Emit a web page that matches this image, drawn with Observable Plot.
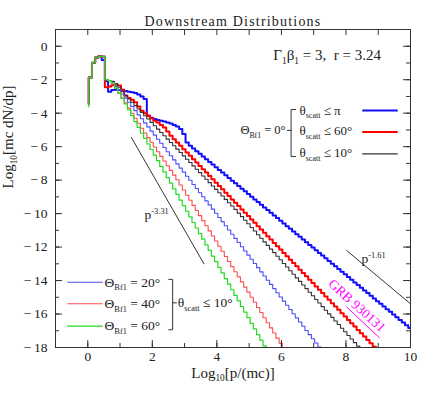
<!DOCTYPE html>
<html><head><meta charset="utf-8">
<script src="https://cdn.jsdelivr.net/npm/d3@7"></script>
<script src="https://cdn.jsdelivr.net/npm/@observablehq/plot@0.6"></script>
<style>body{margin:0;background:#fff} svg{display:block}</style>
</head><body><div id="chart"></div>
<script>
// histogram bins in log10[p/(mc)]
const binStart = -0.07;
const binWidth = 0.1;

// Theta_Bf1 = 0deg, theta_scatt <= pi
const theta0_pi = [-3.45,-1.87,-0.98,-0.68,-0.6,-0.82,
 -2.08,-2.72,-2.62,-2.6,-2.62,-2.64,-2.68,-2.72,-2.75,-2.8,-2.88,-3.0,-3.15,-4.15,-4.28,-4.35,-4.4,-4.45,-4.5,-4.55,-4.62,-4.7,-4.8,-4.95,-5.25,-5.75,-5.95,
 -6.11,-6.27,-6.43,-6.59,-6.75,-6.91,-7.07,-7.23,-7.39,-7.55,-7.71,-7.87,-8.03,-8.19,-8.35,-8.51,-8.67,-8.83,-8.99,-9.15,-9.31,-9.47,-9.63,-9.79,-9.95,
 -10.11,-10.27,-10.43,-10.59,-10.75,-10.91,-11.07,-11.23,-11.39,-11.55,-11.71,-11.87,-12.03,-12.19,-12.35,-12.51,-12.67,-12.83,-12.99,-13.15,-13.31,
 -13.47,-13.63,-13.79,-13.95,-14.11,-14.27,-14.43,-14.59,-14.75,-14.91,-15.07,-15.23,-15.39,-15.55,-15.71,-15.87,-16.03,-16.19,-16.35,-16.51,-16.67,-16.83];

// Theta_Bf1 = 0deg, theta_scatt <= 60deg
const theta0_60 = [-3.45,-1.87,-0.98,-0.68,-0.6,-0.62,
 -2.45,-2.4,-2.33,-2.28,-2.35,-2.6,-2.95,-3.1,-3.2,-3.35,-3.6,-3.85,-4.0,-4.15,-4.3,-4.45,-4.55,-4.7,-4.85,-5.1,-5.35,
 -5.55,-5.75,-5.95,-6.15,-6.35,-6.55,-6.75,-6.95,-7.15,-7.35,-7.55,-7.75,-7.95,-8.15,-8.35,-8.55,-8.75,-8.95,-9.15,-9.35,-9.55,-9.75,-9.95,
 -10.15,-10.35,-10.55,-10.75,-10.95,-11.15,-11.35,-11.55,-11.75,-11.95,-12.15,-12.35,-12.55,-12.75,-12.95,-13.15,-13.35,-13.55,-13.75,-13.95,
 -14.15,-14.35,-14.55,-14.75,-14.95,-15.15,-15.35,-15.55,-15.75,-15.95,-16.15,-16.35,-16.55,-16.75,-16.95,-17.15,-17.35,-17.55,-17.75,-17.95,-18.15];

// Theta_Bf1 = 0deg, theta_scatt <= 10deg
const theta0_10 = [-3.45,-1.87,-0.98,-0.68,-0.6,-0.62,
 -2.0,-2.05,-2.1,-2.25,-2.45,-2.7,-2.95,-3.15,-3.35,-3.55,-3.75,-3.95,
 -4.15,-4.35,-4.55,-4.75,-4.95,-5.15,-5.35,-5.55,-5.75,-5.95,-6.15,-6.35,-6.55,-6.75,-6.95,-7.15,-7.35,-7.55,-7.75,-7.95,-8.15,-8.35,-8.55,-8.75,-8.95,-9.15,-9.35,-9.55,-9.75,
 -9.97,-10.18,-10.4,-10.61,-10.83,-11.04,-11.26,-11.47,-11.69,-11.9,-12.12,-12.33,-12.55,-12.76,-12.98,-13.19,-13.41,-13.62,-13.84,-14.05,-14.27,-14.48,
 -14.7,-14.91,-15.13,-15.34,-15.56,-15.77,-15.99,-16.2,-16.42,-16.63,-16.85,-17.06,-17.28,-17.49,-17.71,-17.92,-18.14];

// Theta_Bf1 = 20deg, theta_scatt <= 10deg
const theta20_10 = [-3.45,-1.87,-0.98,-0.68,-0.6,-0.62,
 -2.0,-2.05,-2.15,-2.4,-2.6,-2.85,-3.1,-3.35,-3.6,-3.85,-4.1,-4.33,
 -4.58,-4.82,-5.07,-5.31,-5.56,-5.8,-6.05,-6.3,-6.54,-6.79,-7.03,-7.28,-7.52,-7.77,-8.01,-8.26,-8.5,-8.75,-8.99,-9.24,-9.48,-9.73,
 -9.98,-10.23,-10.48,-10.73,-10.98,-11.23,-11.48,-11.73,-11.98,-12.23,-12.48,-12.73,-12.98,-13.23,-13.48,-13.73,-13.98,-14.23,-14.48,-14.73,
 -14.98,-15.23,-15.48,-15.73,-15.98,-16.23,-16.48,-16.73,-16.98,-17.23,-17.48,-17.73,-17.98,-18.23];

// Theta_Bf1 = 40deg, theta_scatt <= 10deg
const theta40_10 = [-3.45,-1.87,-0.98,-0.68,-0.6,-0.62,
 -2.0,-2.05,-2.2,-2.5,-2.8,-3.1,-3.4,-3.7,-4.0,-4.3,-4.6,-4.9,
 -5.18,-5.46,-5.74,-6.02,-6.3,-6.58,-6.86,-7.14,-7.42,-7.7,-7.98,
 -8.29,-8.59,-8.9,-9.2,-9.51,-9.81,-10.12,-10.42,-10.73,-11.03,-11.34,-11.64,-11.95,-12.25,-12.56,-12.86,-13.17,-13.47,-13.78,
 -14.08,-14.39,-14.69,-15.0,-15.3,-15.61,-15.91,-16.22,-16.52,-16.83,-17.13,-17.44,-17.74,-18.05];

// Theta_Bf1 = 60deg, theta_scatt <= 10deg
const theta60_10 = [-3.62,-1.87,-0.98,-0.68,-0.6,-0.6,
 -2.0,-2.05,-2.2,-2.5,-2.8,-3.1,-3.45,-3.8,-4.15,-4.5,-4.85,-5.2,-5.5,
 -5.84,-6.17,-6.51,-6.84,-7.18,-7.51,-7.85,-8.18,-8.52,-8.85,-9.19,-9.52,-9.86,-10.19,-10.53,-10.86,-11.2,-11.53,-11.87,
 -12.2,-12.54,-12.87,-13.21,-13.54,-13.88,-14.21,-14.55,-14.88,-15.22,-15.55,-15.89,-16.22,-16.56,-16.89,-17.23,-17.56,-17.9,-18.23];

const xTicks = [-1,0,1,2,3,4,5,6,7,8,9,10];
const xTickLabels = [0,2,4,6,8,10];
const yTicks = d3.range(-18, 2, 1);
const yTickLabels = [0,-2,-4,-6,-8,-10,-12,-14,-16,-18];

const slopeSteep = [{x: 1.35, y: -5.45}, {x: 3.60, y: -13.0}];
const slopeFlat = [{x: 8.02, y: -12.2}, {x: 10.0, y: -15.39}];

function bins(values) {
  const pts = values.map((v, i) => ({x: binStart + Math.max(i, 1) * binWidth, y: v}));
  pts.push({x: binStart + values.length * binWidth, y: values[values.length - 1]});
  return pts;
}

const W = 424, H = 405, mL = 55, mR = 14, mT = 29, mB = 58;
const fw = W - mL - mR, fh = H - mT - mB;
const fmt = d => d < 0 ? "\u2212\u2009" + Math.abs(d) : String(d);

const series = [
  {v: theta0_pi, c: "#1010ff", w: 2},
  {v: theta0_60, c: "#ff0000", w: 2},
  {v: theta0_10, c: "#333333", w: 1.1},
  {v: theta20_10, c: "#4d4dff", w: 1.1},
  {v: theta40_10, c: "#ff4d4d", w: 1.1},
  {v: theta60_10, c: "#22dd22", w: 1.2}
];

const T = (s, o) => Plot.text([s], {text: d => d, ...o});

const plot = Plot.plot({
  width: W, height: H,
  marginLeft: mL, marginRight: mR, marginTop: mT, marginBottom: mB,
  x: {domain: [-1, 10], axis: null},
  y: {domain: [-18, 1], axis: null},
  style: {fontFamily: "'Liberation Serif', serif", fontSize: "13px", background: "#fff", color: "#222"},
  marks: [
    ...series.map(s => Plot.line(bins(s.v), {x: "x", y: "y", curve: "step-after", stroke: s.c, strokeWidth: s.w, clip: true})),
    // power law guides
    Plot.line(slopeSteep, {x: "x", y: "y", stroke: "#333", strokeWidth: 1, clip: true}),
    Plot.line(slopeFlat, {x: "x", y: "y", stroke: "#333", strokeWidth: 1, clip: true}),
    T("p^{-3.31}", {x: 1.76, y: -10.05, textAnchor: "start", fontSize: 13.5}),
    T("p^{-1.61}", {x: 8.48, y: -12.7, textAnchor: "start", fontSize: 13.5}),
    // GRB label
    T("GRB 930131", {x: 8.34, y: -15.5, rotate: 42, fill: "#ff00ff", fontSize: 13.5}),
    Plot.line([{x: 8.02, y: -15.58}, {x: 9.04, y: -17.42}], {x: "x", y: "y", stroke: "#ff00ff", strokeWidth: 1}),
    // top-right annotation
    T("\u0393_{1}\u03b2_{1} = 3,  r = 3.24", {x: 5.75, y: -0.55, textAnchor: "start", fontSize: 15}),
    T("\u0398_{Bf1} = 0\u00b0", {x: 6.13, y: -5.03, textAnchor: "end", fontSize: 12.5}),
    Plot.line([{x: 6.44, y: -3.78}, {x: 6.30, y: -3.78}, {x: 6.30, y: -6.59}, {x: 6.44, y: -6.59}], {x: "x", y: "y", stroke: "#333", strokeWidth: 1}),
    Plot.line([{x: 6.19, y: -5.03}, {x: 6.30, y: -5.03}], {x: "x", y: "y", stroke: "#333", strokeWidth: 1}),
    T("\u03b8_{scatt} \u2264 \u03c0", {x: 6.56, y: -3.84, textAnchor: "start", fontSize: 13}),
    T("\u03b8_{scatt} \u2264 60\u00b0", {x: 6.56, y: -5.08, textAnchor: "start", fontSize: 13}),
    T("\u03b8_{scatt} \u2264 10\u00b0", {x: 6.56, y: -6.39, textAnchor: "start", fontSize: 13}),
    Plot.ruleY([-3.84], {x1: 8.52, x2: 9.62, stroke: "#1010ff", strokeWidth: 2}),
    Plot.ruleY([-5.12], {x1: 8.52, x2: 9.62, stroke: "#ff0000", strokeWidth: 2}),
    Plot.ruleY([-6.43], {x1: 8.52, x2: 9.62, stroke: "#333", strokeWidth: 1.1}),
    // lower-left legend
    Plot.ruleY([-14.1], {x1: -0.62, x2: 0.48, stroke: "#4d4dff", strokeWidth: 1.1}),
    Plot.ruleY([-15.39], {x1: -0.62, x2: 0.48, stroke: "#ff4d4d", strokeWidth: 1.1}),
    Plot.ruleY([-16.72], {x1: -0.62, x2: 0.48, stroke: "#22dd22", strokeWidth: 1.2}),
    T("\u0398_{Bf1} = 20\u00b0", {x: 0.52, y: -14.1, textAnchor: "start", fontSize: 13.5}),
    T("\u0398_{Bf1} = 40\u00b0", {x: 0.52, y: -15.39, textAnchor: "start", fontSize: 13.5}),
    T("\u0398_{Bf1} = 60\u00b0", {x: 0.52, y: -16.72, textAnchor: "start", fontSize: 13.5}),
    Plot.line([{x: 2.51, y: -13.93}, {x: 2.63, y: -13.93}, {x: 2.63, y: -16.94}, {x: 2.51, y: -16.94}], {x: "x", y: "y", stroke: "#333", strokeWidth: 1}),
    Plot.line([{x: 2.63, y: -15.33}, {x: 2.75, y: -15.33}], {x: "x", y: "y", stroke: "#333", strokeWidth: 1}),
    T("\u03b8_{scatt} \u2264 10\u00b0", {x: 2.79, y: -15.33, textAnchor: "start", fontSize: 13.5}),
    // frame & ticks (inward)
    Plot.frame({stroke: "#333", strokeWidth: 1}),
    Plot.tickX(xTicks, {x: d => d, insetTop: fh - 4, stroke: "#333"}),
    Plot.tickX(xTickLabels, {x: d => d, insetTop: fh - 7, stroke: "#333"}),
    Plot.tickX(xTicks, {x: d => d, insetBottom: fh - 6, stroke: "#333"}),
    Plot.tickY(yTicks, {y: d => d, insetRight: fw - 4, stroke: "#333"}),
    Plot.tickY(yTickLabels, {y: d => d, insetRight: fw - 7, stroke: "#333"}),
    Plot.tickY(yTicks, {y: d => d, insetLeft: fw - 4, stroke: "#333"}),
    Plot.tickY(yTickLabels, {y: d => d, insetLeft: fw - 7, stroke: "#333"}),
    Plot.text(xTickLabels, {x: d => d, text: fmt, frameAnchor: "bottom", dy: 13, fontSize: 13.5}),
    Plot.text(yTickLabels, {y: d => d, text: fmt, frameAnchor: "left", dx: -8, textAnchor: "end", fontSize: 13.5}),
    // titles
    T("Downstream Distributions", {frameAnchor: "top", dy: -4, lineAnchor: "bottom", fontSize: 14}),
    T("Log_{10}[p/(mc)]", {frameAnchor: "bottom", dy: 30, fontSize: 15}),
    T("Log_{10}[mc dN/dp]", {frameAnchor: "left", dx: -47, rotate: -90, fontSize: 15})
  ]
});

// subscripts / superscripts as tspans
d3.select(plot).selectAll("text").each(function() {
  const t = this.textContent;
  if (!/[_^]\{/.test(t)) return;
  const parts = [];
  const re = /([_^])\{([^}]*)\}/g;
  let last = 0, m;
  while ((m = re.exec(t))) {
    if (m.index > last) parts.push({s: t.slice(last, m.index), k: ""});
    parts.push({s: m[2], k: m[1]});
    last = re.lastIndex;
  }
  if (last < t.length) parts.push({s: t.slice(last), k: ""});
  const sel = d3.select(this);
  sel.text(null);
  let shift = 0;
  for (const p of parts) {
    const target = p.k === "_" ? 3.5 : p.k === "^" ? -5 : 0;
    const ts = sel.append("tspan").text(p.s);
    if (target - shift !== 0) ts.attr("dy", target - shift);
    if (p.k) ts.attr("font-size", "0.62em");
    shift = target;
  }
});
d3.selectAll(plot.querySelectorAll("text")).filter(function() { return this.textContent === "Downstream Distributions"; }).attr("letter-spacing", "1.2px");

document.getElementById("chart").appendChild(plot);
</script>
</body></html>
